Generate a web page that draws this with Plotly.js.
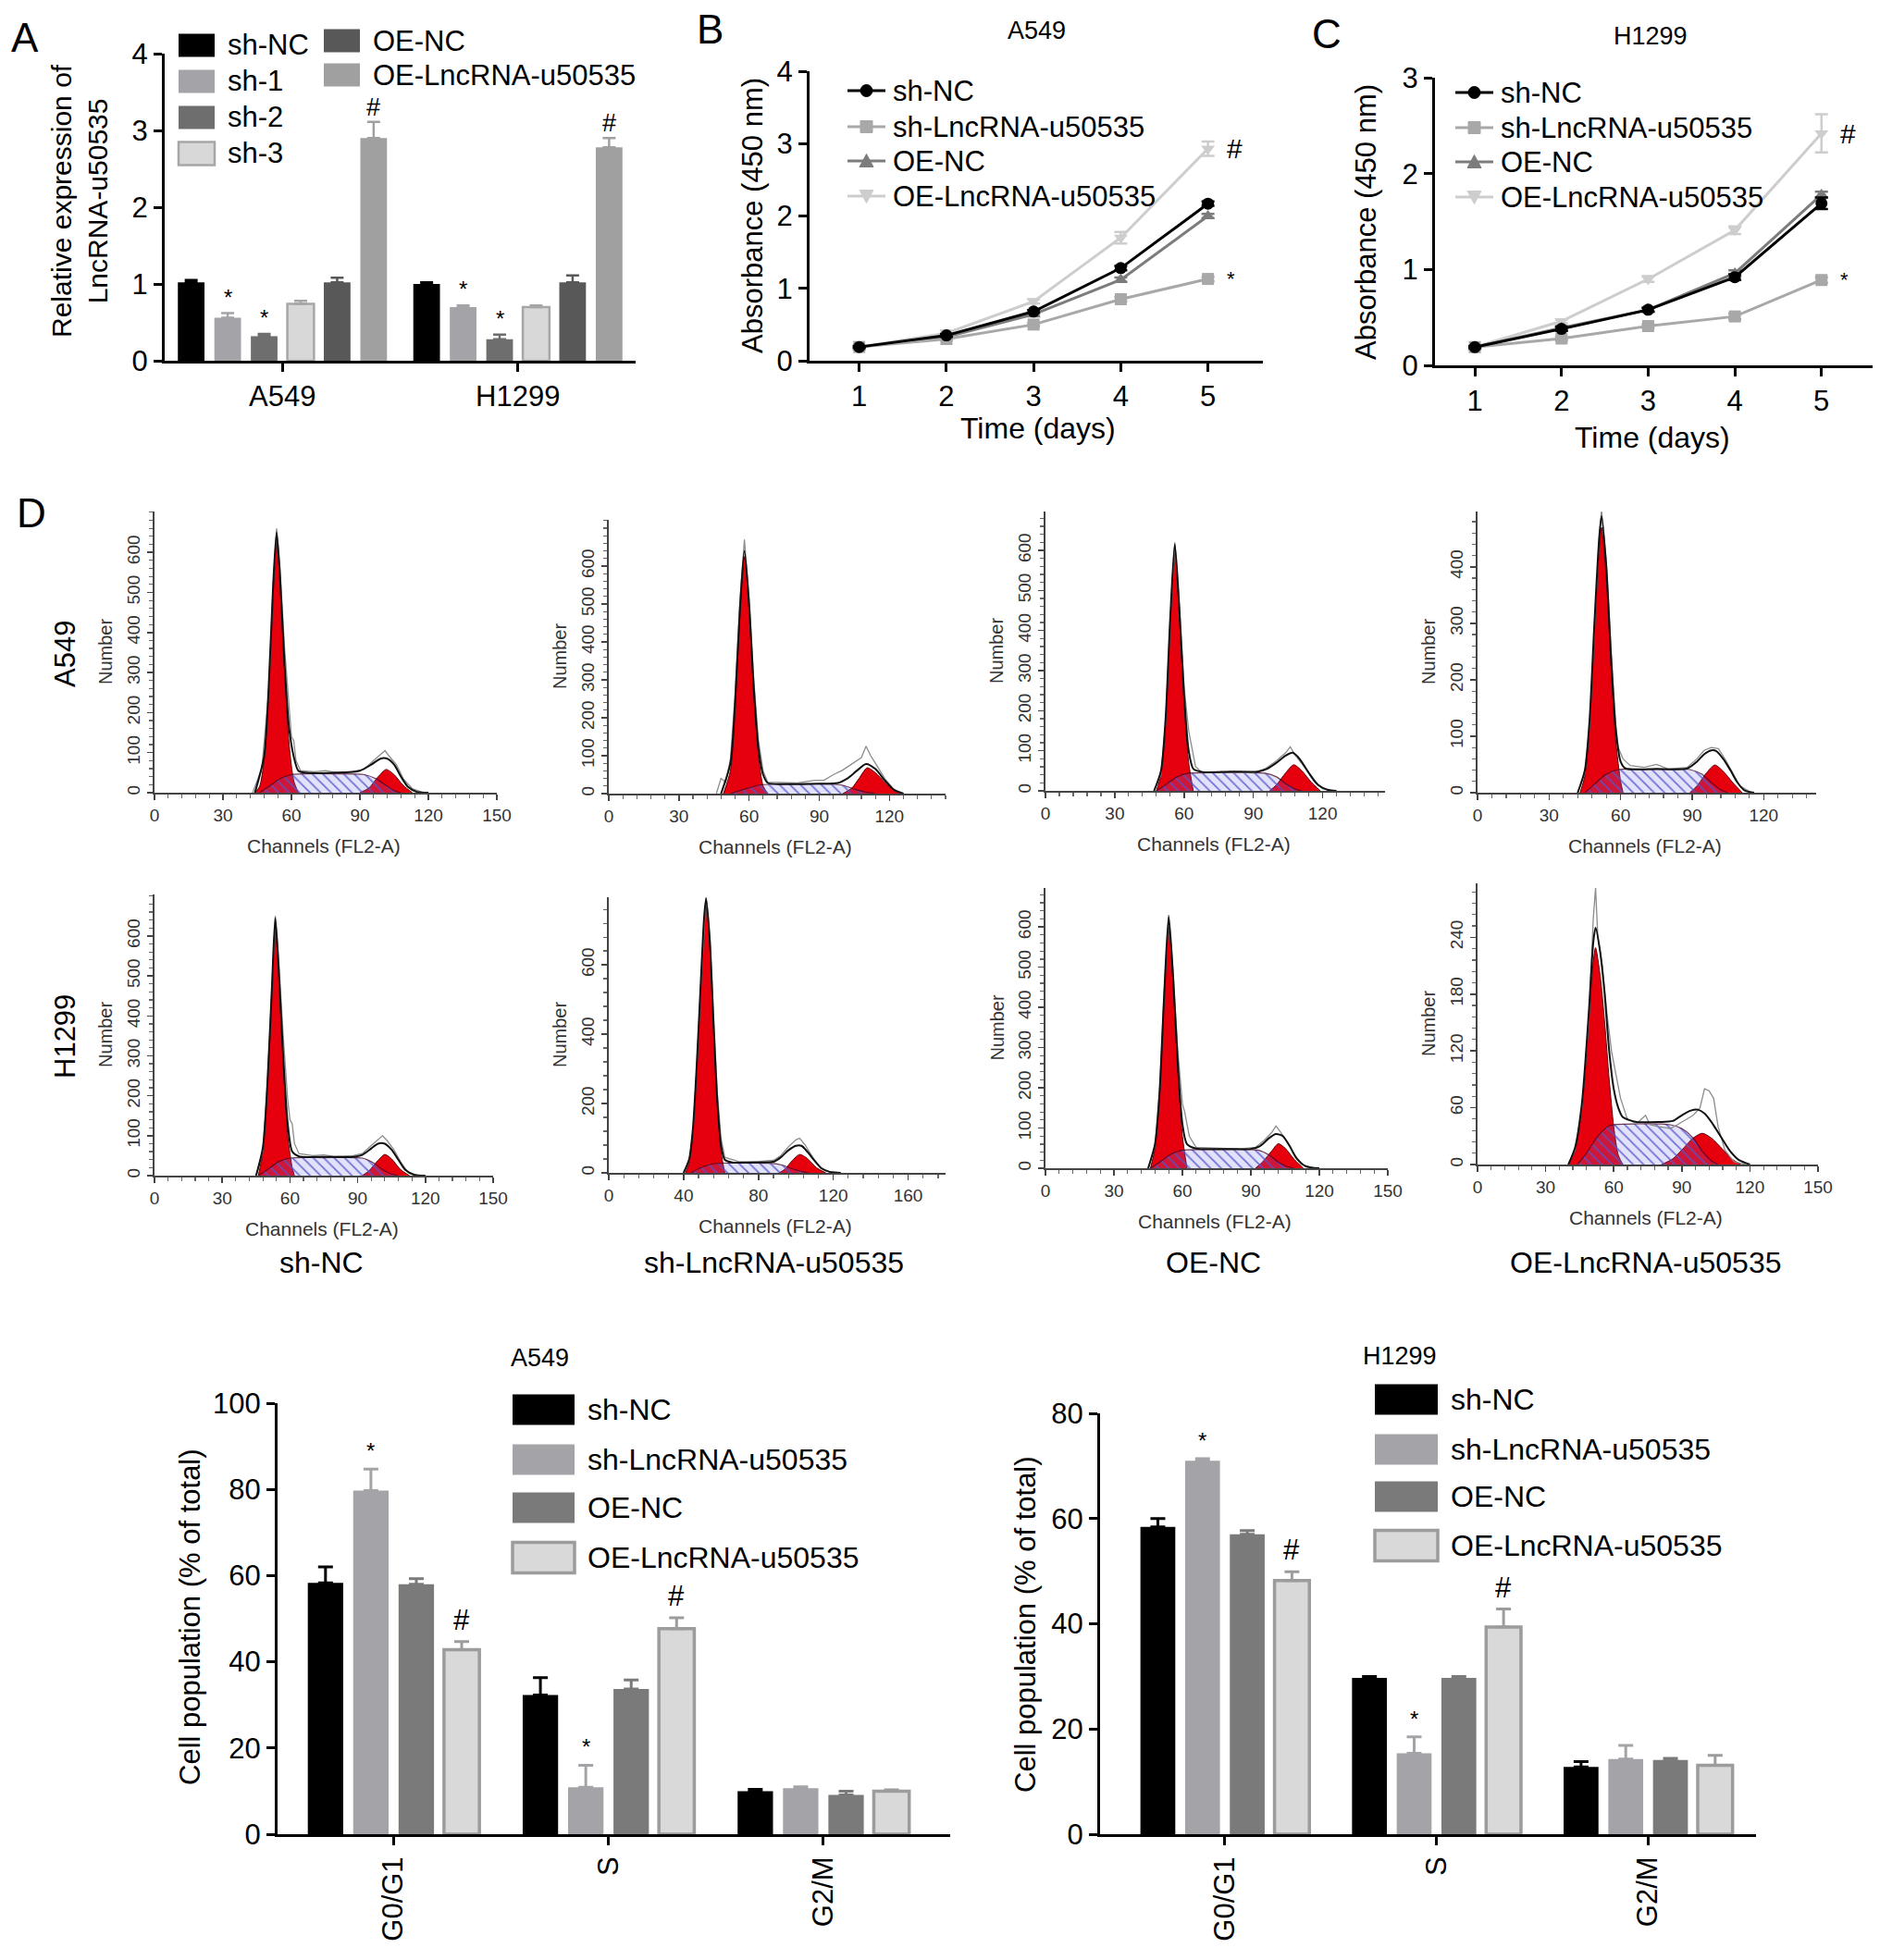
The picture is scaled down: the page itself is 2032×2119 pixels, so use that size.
<!DOCTYPE html>
<html>
<head>
<meta charset="utf-8">
<title>LncRNA-u50535</title>
<script src="https://cdn.plot.ly/plotly-3.0.1.min.js"></script>
<style>
  html, body { margin: 0; padding: 0; background: #fff; }
  #fig { width: 2032px; height: 2119px; }
</style>
</head>
<body>
<div id="fig"></div>
<script>
var W = 2032, H = 2119;
var FONT = 'Liberation Sans, Arial, Helvetica, sans-serif';

// ---------- A: relative expression ----------
var cellLines = ['A549', 'H1299'];
var exprGroups = ['sh-NC', 'sh-1', 'sh-2', 'sh-3', 'OE-NC', 'OE-LncRNA-u50535'];
var exprA549 = [1.02, 0.56, 0.32, 0.74, 1.02, 2.9];
var exprA549Err = [0.03, 0.06, 0.03, 0.04, 0.06, 0.21];
var exprH1299 = [1.0, 0.7, 0.28, 0.7, 1.02, 2.78];
var exprH1299Err = [0.02, 0.02, 0.06, 0.02, 0.09, 0.12];
var exprSig = ['', '*', '*', '', '', '#'];

// ---------- B, C: absorbance ----------
var days = [1, 2, 3, 4, 5];
var cckGroups = ['sh-NC', 'sh-LncRNA-u50535', 'OE-NC', 'OE-LncRNA-u50535'];
var a549ShNC = [0.19, 0.35, 0.68, 1.28, 2.17];
var a549ShLnc = [0.19, 0.3, 0.5, 0.85, 1.13];
var a549OENC = [0.19, 0.33, 0.64, 1.12, 2.0];
var a549OELnc = [0.19, 0.38, 0.82, 1.7, 2.93];
var a549OELncErr = [0.02, 0.04, 0.03, 0.08, 0.1];
var h1299ShNC = [0.19, 0.38, 0.58, 0.92, 1.69];
var h1299ShLnc = [0.19, 0.28, 0.41, 0.51, 0.89];
var h1299OENC = [0.19, 0.39, 0.58, 0.96, 1.78];
var h1299OELnc = [0.19, 0.46, 0.9, 1.41, 2.42];
var h1299OELncErr = [0.02, 0.02, 0.03, 0.04, 0.2];
var h1299ShNCErr = [0.01, 0.02, 0.02, 0.03, 0.06];
var cckErrSmall = [0.01, 0.02, 0.02, 0.03, 0.03];

// ---------- D: cell cycle histograms (channel, count) ----------
var a549ShNcG1 = [[44,0],[46,15],[48,80],[50,250],[52,500],[53.5,625],[55,520],[57,300],[59,120],[61,30],[63,0]];
var a549ShNcS = [[46,0],[50,15],[55,35],[60,45],[65,47],[80,47],[92,45],[97,35],[101,20],[105,5],[108,0]];
var a549ShNcG2 = [[90,0],[94,12],[98,40],[101.5,58],[105,45],[109,18],[113,0]];
var a549ShNcFit = [[44,0],[48,90],[50,260],[52,520],[53.5,650],[55,540],[57,320],[59,160],[61,90],[63,55],[66,50],[80,50],[90,55],[95,70],[99,85],[102,85],[105,70],[108,40],[111,15],[115,2],[120,0]];
var a549ShNcRaw = [[43,0],[47,60],[50,250],[52,520],[53.5,660],[55,560],[57,360],[59,200],[60,140],[61,130],[62,80],[64,55],[70,52],[75,55],[80,50],[88,52],[92,60],[96,80],[99,95],[101,105],[103,90],[106,70],[109,35],[113,10],[118,0]];
var a549ShNcPeaks = [53.6, 100];

var a549ShLncG1 = [[49,0],[52,60],[54,220],[56,460],[58,625],[60,480],[62,260],[64,100],[66,20],[68,0]];
var a549ShLncS = [[52,0],[58,12],[64,22],[70,25],[95,25],[100,22],[105,12],[110,4],[114,0]];
var a549ShLncG2 = [[100,0],[104,15],[107,40],[110.5,68],[114,55],[118,30],[122,8],[126,0]];
var a549ShLncFit = [[48,0],[52,80],[54,240],[56,480],[58,640],[60,500],[62,280],[64,120],[66,50],[68,28],[75,25],[90,26],[98,28],[102,40],[106,60],[110,78],[114,65],[118,35],[122,10],[126,0]];
var a549ShLncRaw = [[46,0],[48,40],[50,30],[52,90],[54,260],[56,500],[58,670],[60,510],[62,300],[64,140],[66,60],[68,30],[80,28],[88,35],[92,35],[96,50],[100,62],[104,78],[108,95],[110,125],[112,100],[114,80],[118,40],[122,10],[126,0]];
var a549ShLncPeaks = [57.5, 109.5];

var a549OeNcG1 = [[48,0],[50,40],[52,170],[54,420],[56,600],[58,430],[60,220],[62,70],[64,0]];
var a549OeNcS = [[48,0],[52,15],[57,35],[62,44],[80,45],[95,44],[100,35],[104,18],[108,5],[111,0]];
var a549OeNcG2 = [[97,0],[100,15],[104,45],[107.5,65],[111,50],[115,22],[119,0]];
var a549OeNcFit = [[47,0],[50,50],[52,180],[54,430],[56,615],[58,450],[60,240],[62,100],[64,55],[68,47],[80,48],[92,48],[96,55],[100,70],[104,88],[107,95],[110,80],[114,45],[118,15],[122,3],[126,0]];
var a549OeNcRaw = [[47,0],[50,40],[52,170],[54,430],[56,620],[58,460],[60,260],[62,150],[63,120],[65,60],[68,45],[80,47],[90,45],[95,55],[100,75],[104,95],[106,110],[108,90],[112,60],[116,25],[120,5],[125,0]];
var a549OeNcPeaks = [55, 106];

var a549OeLncG1 = [[43,0],[45,30],[47,120],[49,280],[51,430],[52,470],[54,380],[56,220],[58,90],[60,20],[61,0]];
var a549OeLncS = [[45,0],[49,15],[54,33],[59,41],[75,41],[89,41],[94,33],[98,18],[102,5],[105,0]];
var a549OeLncG2 = [[89,0],[92,12],[96,35],[99.5,49],[103,38],[107,18],[111,0]];
var a549OeLncFit = [[42,0],[45,40],[47,130],[49,300],[51,450],[52,490],[54,400],[56,240],[58,110],[60,55],[62,43],[75,42],[88,43],[92,55],[95,68],[98,75],[100,74],[103,60],[106,40],[109,18],[112,4],[116,0]];
var a549OeLncRaw = [[42,0],[45,35],[47,120],[49,290],[51,450],[52,500],[54,410],[56,250],[58,120],[59,80],[61,60],[64,48],[70,45],[75,50],[80,42],[88,45],[92,60],[95,75],[98,80],[101,78],[104,58],[107,35],[110,12],[115,0]];
var a549OeLncPeaks = [51.6, 96];

var h1299ShNcG1 = [[46,0],[48,60],[50,220],[52,460],[53.5,620],[55,500],[57,280],[59,100],[61,20],[62,0]];
var h1299ShNcS = [[46,0],[50,15],[55,35],[60,44],[75,45],[92,44],[97,32],[101,15],[105,4],[108,0]];
var h1299ShNcG2 = [[92,0],[95,12],[99,38],[102,53],[105,42],[109,15],[113,0]];
var h1299ShNcFit = [[45,0],[48,70],[50,230],[52,470],[53.5,645],[55,520],[57,300],[59,130],[61,60],[64,48],[75,47],[88,47],[92,52],[96,68],[99,80],[102,80],[105,65],[108,40],[111,15],[115,2],[120,0]];
var h1299ShNcRaw = [[45,0],[48,60],[50,230],[52,480],[53.5,650],[55,540],[57,350],[59,190],[60,140],[61,130],[62,80],[64,55],[70,50],[75,52],[80,48],[88,50],[92,55],[96,75],[99,90],[101,100],[103,88],[106,65],[109,35],[112,10],[117,0]];
var h1299ShNcPeaks = [53.5, 100.5];

var h1299ShLncG1 = [[41,0],[43,30],[45,120],[47,300],[49,520],[51,720],[52,780],[54,660],[56,420],[58,200],[60,60],[62,0]];
var h1299ShLncS = [[44,0],[48,12],[54,24],[60,28],[75,28],[88,27],[93,22],[98,12],[103,4],[107,0]];
var h1299ShLncG2 = [[91,0],[94,10],[98,35],[102,53],[106,42],[111,15],[116,0]];
var h1299ShLncFit = [[40,0],[43,40],[45,130],[47,310],[49,530],[51,740],[52,790],[54,670],[56,430],[58,210],[60,80],[62,38],[66,30],[80,30],[88,32],[92,45],[96,65],[100,78],[103,78],[106,62],[110,35],[114,12],[118,3],[124,0]];
var h1299ShLncRaw = [[40,0],[43,35],[45,120],[47,300],[49,520],[51,730],[52,800],[54,680],[56,450],[58,230],[60,100],[62,45],[70,32],[80,33],[88,36],[92,50],[96,75],[100,95],[102,100],[105,80],[109,45],[113,15],[118,3],[124,0]];
var h1299ShLncPeaks = [52.5, 101.6];

var h1299OeNcG1 = [[46,0],[48,50],[50,180],[52,420],[54,600],[56,450],[58,240],[60,80],[62,0]];
var h1299OeNcS = [[46,0],[50,15],[55,35],[60,45],[75,46],[93,45],[98,33],[102,15],[106,4],[109,0]];
var h1299OeNcG2 = [[92,0],[95,15],[99,42],[102,61],[105,50],[109,22],[113,0]];
var h1299OeNcFit = [[45,0],[48,60],[50,190],[52,430],[54,625],[56,470],[58,260],[60,110],[62,60],[66,49],[80,48],[90,48],[94,55],[98,75],[101,85],[104,80],[107,55],[110,25],[114,5],[120,0]];
var h1299OeNcRaw = [[45,0],[48,55],[50,190],[52,440],[54,630],[56,480],[58,290],[60,160],[61,140],[63,80],[66,52],[75,50],[85,48],[92,52],[96,70],[99,88],[101,105],[103,90],[106,65],[109,35],[112,10],[118,0]];
var h1299OeNcPeaks = [53.8, 100.3];

var h1299OeLncG1 = [[40,0],[43,15],[46,60],[49,150],[51,215],[52,229],[54,200],[56,150],[58,90],[60,40],[62,10],[64,0]];
var h1299OeLncS = [[44,0],[48,12],[53,30],[58,41],[70,43],[85,42],[90,38],[95,28],[99,14],[103,4],[106,0]];
var h1299OeLncG2 = [[81,0],[86,6],[91,18],[95,28],[99,33],[103,28],[108,16],[112,6],[116,0]];
var h1299OeLncFit = [[40,0],[43,18],[46,65],[49,160],[51,235],[52,250],[54,225],[56,180],[58,120],[60,80],[62,60],[64,50],[70,45],[80,45],[86,46],[90,52],[94,57],[97,58],[100,54],[103,45],[107,30],[111,15],[115,5],[120,0]];
var h1299OeLncRaw = [[40,0],[43,15],[46,60],[49,150],[51,260],[52,292],[53,240],[55,210],[57,160],[59,120],[61,95],[63,70],[66,48],[70,43],[74,52],[76,42],[80,40],[85,38],[88,42],[92,48],[95,52],[98,60],[100,80],[102,78],[104,70],[106,40],[109,15],[113,3],[118,0]];
var h1299OeLncPeaks = [51.3, 101.8];

var histColumns = ['sh-NC', 'sh-LncRNA-u50535', 'OE-NC', 'OE-LncRNA-u50535'];

// ---------- bottom: cell population ----------
var phases = ['G0/G1', 'S', 'G2/M'];
var popGroups = ['sh-NC', 'sh-LncRNA-u50535', 'OE-NC', 'OE-LncRNA-u50535'];
var a549PopShNC = [58.3, 32.3, 10.0];
var a549PopShNCErr = [3.7, 4.0, 0.4];
var a549PopShLnc = [79.7, 10.9, 10.7];
var a549PopShLncErr = [5.0, 5.1, 0.3];
var a549PopOENC = [58.0, 33.7, 9.1];
var a549PopOENCErr = [1.3, 2.1, 0.9];
var a549PopOELnc = [42.8, 47.7, 10.0];
var a549PopOELncErr = [1.9, 2.5, 0.3];
var h1299PopShNC = [58.4, 29.7, 12.8];
var h1299PopShNCErr = [1.6, 0.3, 1.0];
var h1299PopShLnc = [71.0, 15.4, 14.3];
var h1299PopShLncErr = [0.4, 3.1, 2.6];
var h1299PopOENC = [57.0, 29.7, 14.1];
var h1299PopOENCErr = [0.7, 0.3, 0.3];
var h1299PopOELnc = [48.2, 39.4, 13.1];
var h1299PopOELncErr = [1.7, 3.4, 1.9];
var popSig = [['', '', ''], ['*', '*', ''], ['', '', ''], ['#', '#', '']];

// ---------- helpers ----------
function fx(p) { return p / W; }
function fy(p) { return 1 - p / H; }
function xs(pts) { return pts.map(function (p) { return p[0]; }); }
function ys(pts) { return pts.map(function (p) { return p[1]; }); }

function barGeom(n, groupFrac, gapFrac, i) {
  var slot = groupFrac / n;
  var w = slot * (1 - gapFrac);
  var c = -groupFrac / 2 + slot * (i + 0.5);
  return { width: w, offset: c - w / 2, center: c };
}

var traces = [];
var ann = [];
var shapes = [];

function label(x, y, s, size, opt) {
  var a = {
    xref: 'paper', yref: 'paper', x: fx(x), y: fy(y), text: s, showarrow: false,
    xanchor: 'center', yanchor: 'middle', font: { family: FONT, size: size, color: '#000' }
  };
  for (var k in (opt || {})) a[k] = opt[k];
  ann.push(a);
}

function swatch(x0, x1, yc, h, fill, edge, lw) {
  shapes.push({ type: 'rect', xref: 'paper', yref: 'paper', x0: fx(x0), x1: fx(x1),
    y0: fy(yc + h / 2), y1: fy(yc - h / 2), fillcolor: fill,
    line: { color: edge, width: lw } });
}

function markerShape(sym, cx, cy, r, color) {
  if (sym === 'circle' || sym === 'square') {
    shapes.push({ type: sym === 'circle' ? 'circle' : 'rect', xref: 'paper', yref: 'paper',
      x0: fx(cx - r), x1: fx(cx + r), y0: fy(cy + r), y1: fy(cy - r),
      fillcolor: color, line: { color: color, width: 1 } });
  } else {
    var up = sym === 'triangle-up' ? 1 : -1;
    var p = 'M' + fx(cx - r - 1) + ',' + fy(cy + up * r) + ' L' + fx(cx + r + 1) + ',' + fy(cy + up * r) +
      ' L' + fx(cx) + ',' + fy(cy - up * (r + 1)) + ' Z';
    shapes.push({ type: 'path', xref: 'paper', yref: 'paper', path: p, fillcolor: color, line: { color: color, width: 1 } });
  }
}

function boldAxis(extra) {
  var a = { showline: true, linecolor: '#000', linewidth: 3, ticks: 'outside', ticklen: 9,
    tickwidth: 3, tickcolor: '#000', showgrid: false, zeroline: false, fixedrange: true,
    tickfont: { family: FONT, size: 31, color: '#000' } };
  for (var k in extra) a[k] = extra[k];
  return a;
}

// ---------- A ----------
var exprColors = ['#000000', '#a4a4a8', '#6e6e6e', '#d8d8d8', '#585858', '#a0a0a0'];
var exprEdge = ['#000000', '#a4a4a8', '#6e6e6e', '#a6a6a6', '#585858', '#a0a0a0'];
exprGroups.forEach(function (g, i) {
  var geo = barGeom(6, 0.93, 0.27, i);
  var vals = [exprA549[i], exprH1299[i]];
  var errs = [exprA549Err[i], exprH1299Err[i]];
  traces.push({ type: 'bar', name: g, x: cellLines, y: vals, width: geo.width, offset: geo.offset,
    xaxis: 'x', yaxis: 'y',
    marker: { color: exprColors[i], line: { color: exprEdge[i], width: i === 3 ? 2.5 : 0 } },
    error_y: { type: 'data', symmetric: false, array: errs, arrayminus: [0, 0], color: exprEdge[i], thickness: 2.5, width: 7 } });
  if (exprSig[i]) {
    for (var c = 0; c < 2; c++) {
      ann.push({ xref: 'x', yref: 'y', x: c + geo.center, y: vals[c] + errs[c], text: exprSig[i],
        showarrow: false, yanchor: 'bottom', yshift: exprSig[i] === '#' ? 0 : 3, borderpad: 0,
        font: { family: FONT, size: exprSig[i] === '#' ? 27 : 24, color: '#000' } });
    }
  }
});
// A legend (two columns)
var legARows = [49, 88, 127, 166];
var legARows2 = [44, 81];
exprGroups.forEach(function (g, i) {
  var col2 = i >= 4;
  var x0 = col2 ? 350 : 193, yc = col2 ? legARows2[i - 4] : legARows[i];
  swatch(x0, x0 + 39, yc, 25, exprColors[i], exprEdge[i], i === 3 ? 2.5 : 0);
  label(x0 + 52, yc, g, 31, { xanchor: 'left', borderpad: 0 });
});

// ---------- B, C ----------
var cckColors = ['#000000', '#a8a8a8', '#7c7c7c', '#cdcdcd'];
var cckSymbols = ['circle', 'square', 'triangle-up', 'triangle-down'];
function addCck(ax, series, errs) {
  for (var i = series.length - 1; i >= 0; i--) {
    traces.push({ type: 'scatter', mode: 'lines+markers', name: cckGroups[i], x: days, y: series[i],
      xaxis: 'x' + ax, yaxis: 'y' + ax,
      line: { color: cckColors[i], width: 3 },
      marker: { symbol: cckSymbols[i], size: 13, color: cckColors[i] },
      error_y: { type: 'data', array: errs[i], color: cckColors[i], thickness: 2.5, width: 7 } });
  }
}
addCck(2, [a549ShNC, a549ShLnc, a549OENC, a549OELnc], [cckErrSmall, cckErrSmall, cckErrSmall, a549OELncErr]);
addCck(3, [h1299ShNC, h1299ShLnc, h1299OENC, h1299OELnc], [h1299ShNCErr, cckErrSmall, cckErrSmall, h1299OELncErr]);
[[2, a549OELnc, a549ShLnc], [3, h1299OELnc, h1299ShLnc]].forEach(function (s) {
  ann.push({ xref: 'x' + s[0], yref: 'y' + s[0], x: 5.2, y: s[1][4], text: '#', showarrow: false,
    xanchor: 'left', yanchor: 'middle', font: { family: FONT, size: 30, color: '#000' } });
  ann.push({ xref: 'x' + s[0], yref: 'y' + s[0], x: 5.2, y: s[2][4], text: '*', showarrow: false,
    xanchor: 'left', yanchor: 'middle', font: { family: FONT, size: 22, color: '#000' } });
});
function cckLegend(x0, rows) {
  cckGroups.forEach(function (g, i) {
    shapes.push({ type: 'line', xref: 'paper', yref: 'paper', x0: fx(x0), x1: fx(x0 + 41),
      y0: fy(rows[i]), y1: fy(rows[i]), line: { color: cckColors[i], width: 3 } });
    markerShape(cckSymbols[i], x0 + 20.5, rows[i], 6.5, cckColors[i]);
    label(x0 + 48, rows[i], g, 31, { xanchor: 'left', borderpad: 0 });
  });
}
cckLegend(916, [98, 137, 174, 212]);
cckLegend(1573, [100, 138, 175, 213]);

// ---------- D: histograms ----------
// left, right, top, bottom (px), x max, y max, x dtick, x minor, y dtick, y minor, top y label
var histBoxes = [
  [167, 537, 553, 857, 150, 702, 30, 6, 100, 20, 600],
  [658, 1022, 562, 858, 144, 722, 30, 6, 100, 20, 600],
  [1130, 1497, 553, 855, 147, 697, 30, 6, 100, 20, 600],
  [1597, 1963, 553, 857, 142, 498, 30, 6, 100, 20, 400],
  [167, 533, 967, 1271, 150, 704, 30, 6, 100, 20, 600],
  [658, 1022, 970, 1268, 180, 795, 40, 8, 200, 40, 600],
  [1130, 1500, 960, 1263, 150, 697, 30, 6, 100, 20, 600],
  [1597, 1965, 955, 1259, 150, 297, 30, 6, 60, 12, 240]
];

function addHist(k, g1, s, g2, fit, raw, peaks) {
  var n = k + 4, xa = 'x' + n, ya = 'y' + n, ymax = histBoxes[k][5];
  [g1, g2].forEach(function (pk) {
    traces.push({ type: 'scatter', mode: 'lines', x: xs(pk), y: ys(pk), xaxis: xa, yaxis: ya,
      fill: 'tozeroy', fillcolor: '#e6000d',
      line: { color: '#5a0006', width: 1, shape: 'spline', smoothing: 0.7 } });
  });
  traces.push({ type: 'scatter', mode: 'lines', x: xs(s), y: ys(s), xaxis: xa, yaxis: ya,
    fill: 'tozeroy', fillcolor: 'rgba(110,110,230,0.2)',
    fillpattern: { shape: '\\', bgcolor: 'rgba(110,110,230,0.2)', fgcolor: '#5454cc', fgopacity: 0.8, size: 8, solidity: 0.22 },
    line: { color: 'rgba(70,0,30,0.75)', width: 1.2, shape: 'spline', smoothing: 0.7 } });
  traces.push({ type: 'scatter', mode: 'lines', x: xs(raw), y: ys(raw), xaxis: xa, yaxis: ya,
    line: { color: '#8c8c8c', width: 1.3 } });
  traces.push({ type: 'scatter', mode: 'lines', x: xs(fit), y: ys(fit), xaxis: xa, yaxis: ya,
    line: { color: '#111', width: 2, shape: 'spline', smoothing: 0.7 } });
  traces.push({ type: 'scatter', mode: 'markers', x: peaks, y: peaks.map(function () { return -0.035 * ymax; }),
    xaxis: xa, yaxis: ya, cliponaxis: false,
    marker: { symbol: 'triangle-up', size: 12, color: '#000' } });
}
addHist(0, a549ShNcG1, a549ShNcS, a549ShNcG2, a549ShNcFit, a549ShNcRaw, a549ShNcPeaks);
addHist(1, a549ShLncG1, a549ShLncS, a549ShLncG2, a549ShLncFit, a549ShLncRaw, a549ShLncPeaks);
addHist(2, a549OeNcG1, a549OeNcS, a549OeNcG2, a549OeNcFit, a549OeNcRaw, a549OeNcPeaks);
addHist(3, a549OeLncG1, a549OeLncS, a549OeLncG2, a549OeLncFit, a549OeLncRaw, a549OeLncPeaks);
addHist(4, h1299ShNcG1, h1299ShNcS, h1299ShNcG2, h1299ShNcFit, h1299ShNcRaw, h1299ShNcPeaks);
addHist(5, h1299ShLncG1, h1299ShLncS, h1299ShLncG2, h1299ShLncFit, h1299ShLncRaw, h1299ShLncPeaks);
addHist(6, h1299OeNcG1, h1299OeNcS, h1299OeNcG2, h1299OeNcFit, h1299OeNcRaw, h1299OeNcPeaks);
addHist(7, h1299OeLncG1, h1299OeLncS, h1299OeLncG2, h1299OeLncFit, h1299OeLncRaw, h1299OeLncPeaks);

// ---------- bottom bars ----------
var popColors = ['#000000', '#a4a4a8', '#7a7a7a', '#d9d9d9'];
var popEdge = ['#000000', '#a4a4a8', '#7a7a7a', '#9c9c9c'];
function addPop(ax, vals, errs) {
  popGroups.forEach(function (g, i) {
    var geo = barGeom(4, 0.845, 0.22, i);
    traces.push({ type: 'bar', name: g, x: phases, y: vals[i], width: geo.width, offset: geo.offset,
      xaxis: 'x' + ax, yaxis: 'y' + ax,
      marker: { color: popColors[i], line: { color: popEdge[i], width: i === 3 ? 3.5 : 0 } },
      error_y: { type: 'data', symmetric: false, array: errs[i], arrayminus: [0, 0, 0], color: popEdge[i], thickness: 3, width: 8 } });
    popSig[i].forEach(function (m, p) {
      if (!m) return;
      ann.push({ xref: 'x' + ax, yref: 'y' + ax, x: p + geo.center, y: vals[i][p] + errs[i][p], text: m,
        showarrow: false, yanchor: 'bottom', yshift: 4,
        font: { family: FONT, size: m === '#' ? 31 : 24, color: '#000' } });
    });
  });
}
addPop(12, [a549PopShNC, a549PopShLnc, a549PopOENC, a549PopOELnc],
  [a549PopShNCErr, a549PopShLncErr, a549PopOENCErr, a549PopOELncErr]);
addPop(13, [h1299PopShNC, h1299PopShLnc, h1299PopOENC, h1299PopOELnc],
  [h1299PopShNCErr, h1299PopShLncErr, h1299PopOENCErr, h1299PopOELncErr]);
function popLegend(x0, x1, rows) {
  popGroups.forEach(function (g, i) {
    swatch(x0, x1, rows[i], 33, popColors[i], popEdge[i], i === 3 ? 3.5 : 0);
    label(x1 + 12, rows[i], g, 32, { xanchor: 'left' });
  });
}
popLegend(554, 621, [1524, 1578, 1630, 1684]);
popLegend(1486, 1554, [1513, 1567, 1618, 1671]);

// ---------- text ----------
label(27, 40, 'A', 44);
label(767, 32, 'B', 44);
label(1434, 37, 'C', 44);
label(34, 554, 'D', 44);
label(86, 217, 'Relative expression of<br>LncRNA-u50535', 30, { textangle: -90 });
label(1120, 33, 'A549', 27);
label(1122, 463, 'Time (days)', 32);
label(813, 233, 'Absorbance (450 nm)', 31, { textangle: -90 });
label(1784, 39, 'H1299', 27);
label(1786, 473, 'Time (days)', 32);
label(1477, 240, 'Absorbance (450 nm)', 31, { textangle: -90 });
[347, 836, 1311, 1778].forEach(function (x, i) { label(x, 1365, histColumns[i], 32); });
label(70, 707, 'A549', 31, { textangle: -90 });
label(70, 1121, 'H1299', 31, { textangle: -90 });
histBoxes.forEach(function (b) {
  label(b[0] - 53, (b[2] + b[3]) / 2, 'Number', 20, { textangle: -90, font: { family: FONT, size: 20, color: '#333' } });
  label((b[0] + b[1]) / 2 - 2, b[3] + 57, 'Channels (FL2-A)', 21, { font: { family: FONT, size: 21, color: '#333' } });
});
label(583, 1468, 'A549', 27);
label(1513, 1466, 'H1299', 27);
label(205, 1748, 'Cell population (% of total)', 31, { textangle: -90 });
label(1108, 1756, 'Cell population (% of total)', 31, { textangle: -90 });

// ---------- layout ----------
var layout = {
  width: W, height: H, margin: { l: 0, r: 0, t: 0, b: 0 },
  paper_bgcolor: '#ffffff', plot_bgcolor: 'rgba(0,0,0,0)',
  showlegend: false, barmode: 'overlay',
  font: { family: FONT, color: '#000' },
  annotations: ann, shapes: shapes
};
layout.xaxis = boldAxis({ domain: [fx(178), fx(687)], type: 'category', range: [-0.5, 1.5], anchor: 'y' });
layout.yaxis = boldAxis({ domain: [fy(390), fy(58)], range: [0, 4], dtick: 1, anchor: 'x' });
layout.xaxis2 = boldAxis({ domain: [fx(875), fx(1365)], range: [0.43, 5.63], tickvals: days, anchor: 'y2' });
layout.yaxis2 = boldAxis({ domain: [fy(390), fy(77)], range: [0, 4], dtick: 1, anchor: 'x2' });
layout.xaxis3 = boldAxis({ domain: [fx(1551), fx(2024)], range: [0.54, 5.59], tickvals: days, anchor: 'y3' });
layout.yaxis3 = boldAxis({ domain: [fy(395), fy(84)], range: [0, 3], dtick: 1, anchor: 'x3' });
layout.xaxis12 = boldAxis({ domain: [fx(300), fx(1027)], type: 'category', range: [-0.54, 2.59], tickangle: -90, anchor: 'y12' });
layout.yaxis12 = boldAxis({ domain: [fy(1983), fy(1517)], range: [0, 100], dtick: 20, anchor: 'x12' });
layout.xaxis13 = boldAxis({ domain: [fx(1189), fx(1898)], type: 'category', range: [-0.59, 2.51], tickangle: -90, anchor: 'y13' });
layout.yaxis13 = boldAxis({ domain: [fy(1983), fy(1528)], range: [0, 80], dtick: 20, anchor: 'x13' });

histBoxes.forEach(function (b, k) {
  var n = k + 4;
  var common = { showline: true, linecolor: '#444', linewidth: 2, ticks: 'outside', ticklen: 6,
    tickwidth: 1.5, tickcolor: '#444', showgrid: false, zeroline: false, fixedrange: true, tick0: 0,
    tickfont: { family: FONT, size: 19, color: '#333' } };
  var xa = {}, yaxis = {};
  for (var key in common) { xa[key] = common[key]; yaxis[key] = common[key]; }
  xa.domain = [fx(b[0]), fx(b[1])]; xa.range = [0, b[4]]; xa.dtick = b[6]; xa.anchor = 'y' + n;
  xa.minor = { dtick: b[7], ticks: 'outside', ticklen: 4, tickwidth: 1.2, tickcolor: '#666', showgrid: false };
  var yt = [];
  for (var v = 0; v <= b[10]; v += b[8]) yt.push(v);
  yaxis.domain = [fy(b[3]), fy(b[2])]; yaxis.range = [0, b[5]]; yaxis.anchor = 'x' + n;
  yaxis.tickmode = 'array'; yaxis.tickvals = yt;
  yaxis.tickangle = -90;
  yaxis.minor = { tickmode: 'linear', tick0: 0, dtick: b[9], ticks: 'outside', ticklen: 4, tickwidth: 1.2, tickcolor: '#666', showgrid: false };
  layout['xaxis' + n] = xa;
  layout['yaxis' + n] = yaxis;
});

Plotly.newPlot('fig', traces, layout, { staticPlot: true });
</script>
</body>
</html>
